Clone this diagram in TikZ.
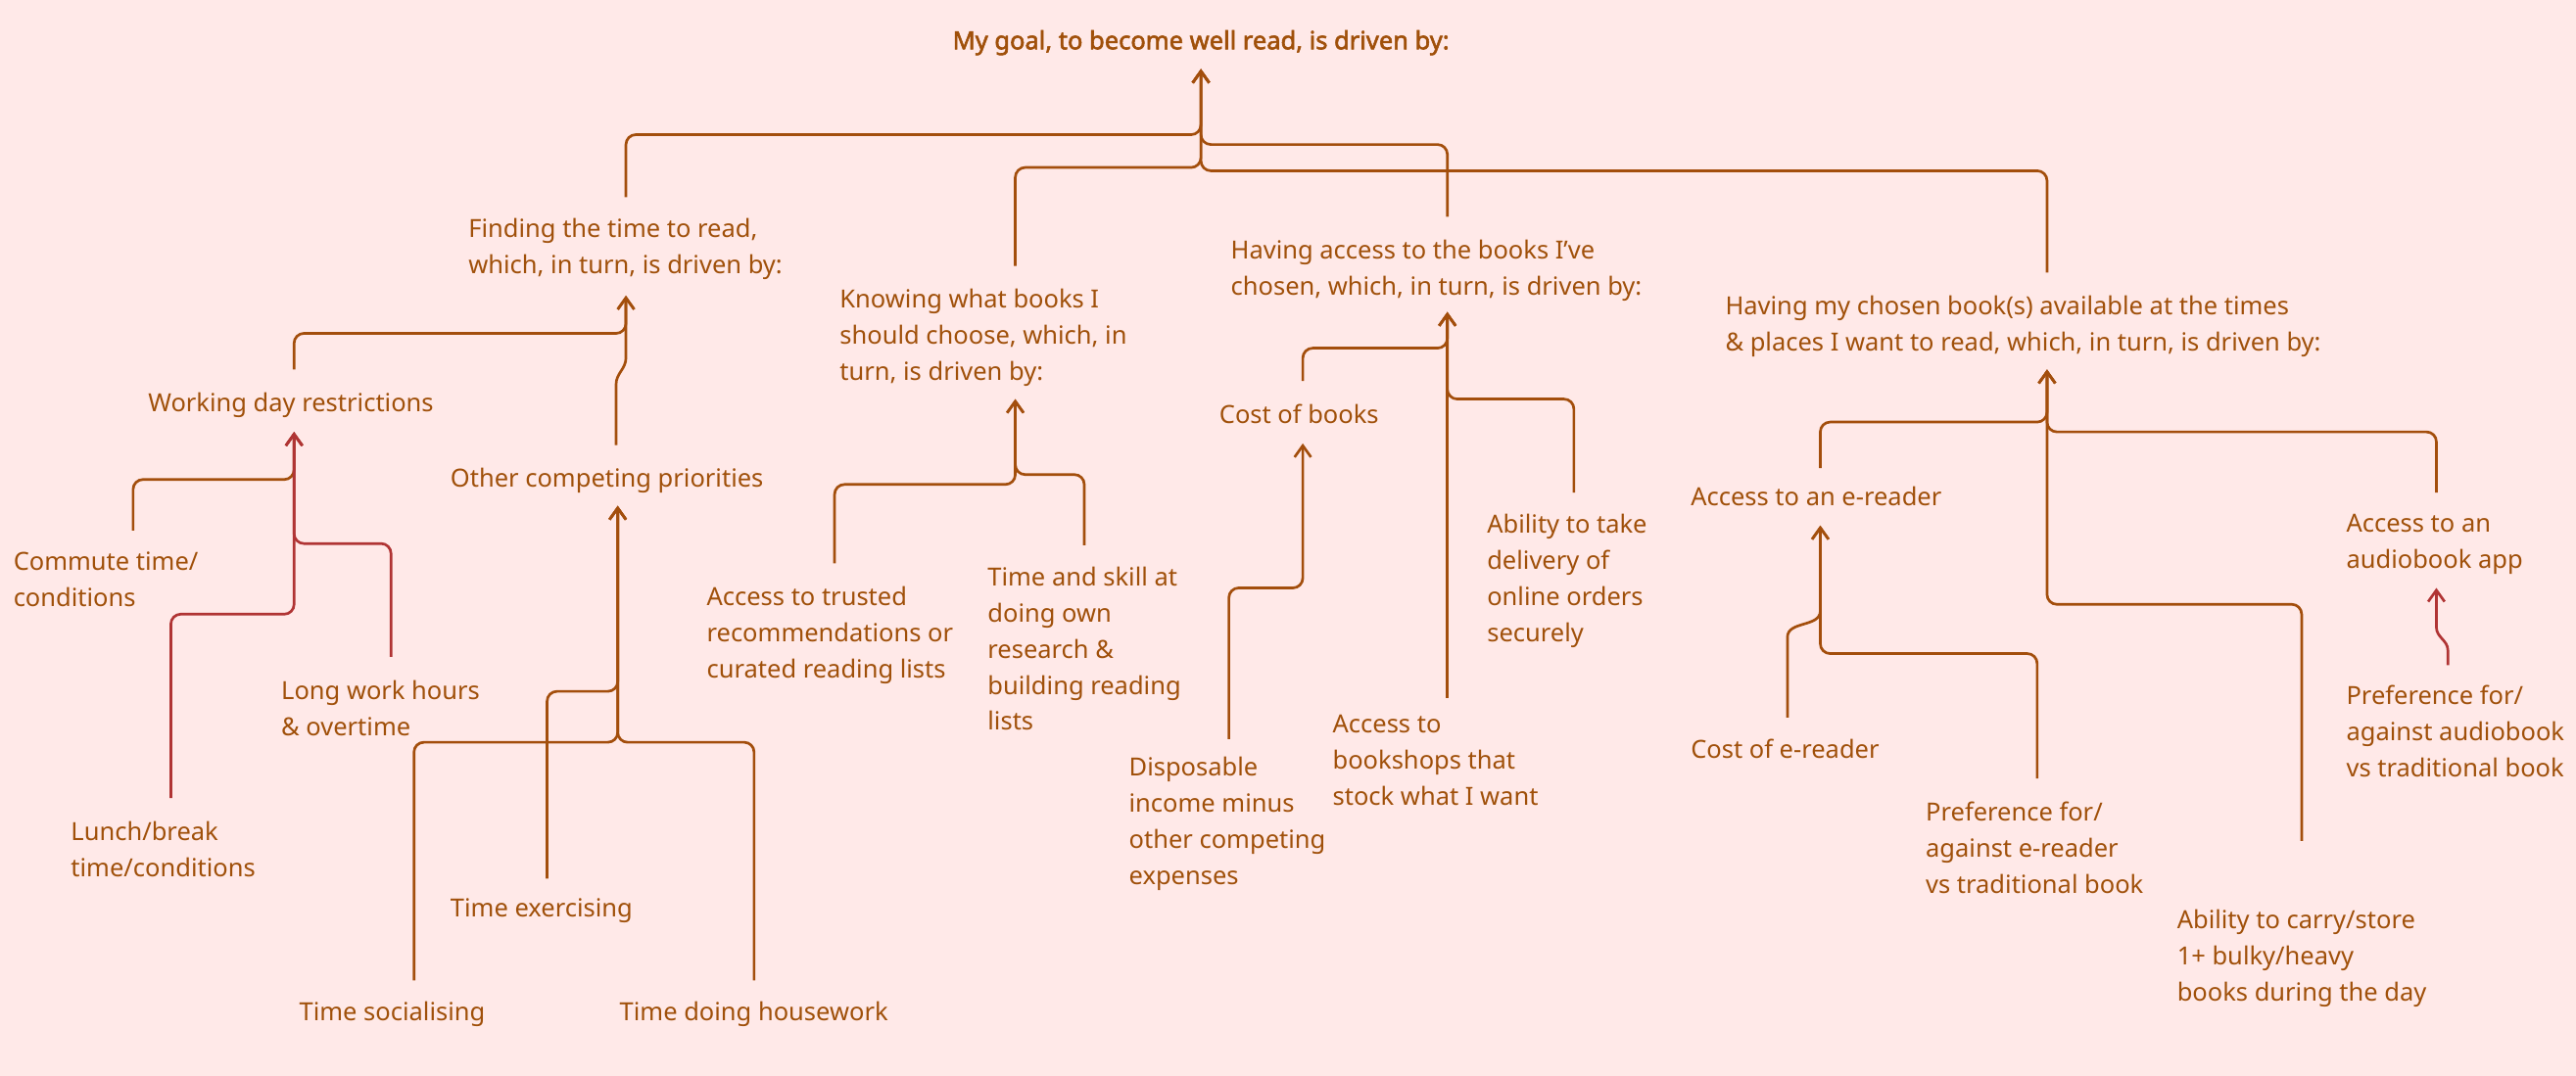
\documentclass[tikz,border=0pt]{standalone}
\usepackage{fontspec}
\setmainfont{Noto Sans}
\newfontfamily\titlefont{Noto Sans}[FakeBold=2.2]
\usetikzlibrary{arrows.meta}
\definecolor{bg}{HTML}{FFE9E8}
\definecolor{tc}{HTML}{A0500A}
\definecolor{lc}{HTML}{A34E0C}
\definecolor{rc}{HTML}{B03434}
\begin{document}
\begin{tikzpicture}[x=1pt,y=-1pt,
  lbl/.style={anchor=north west,inner sep=0pt,align=left,text=tc,font=\fontsize{15.2}{22}\selectfont},
  conn/.style={draw=lc,line width=1.6pt,rounded corners=6pt,-{Straight Barb[length=7pt,width=10pt]}},
  connr/.style={conn,draw=rc}]
\fill[bg] (0,0) rectangle (1568,655);
\useasboundingbox (0,0) rectangle (1568,655);
% texts
\node[lbl,font=\titlefont\fontsize{15.2}{22}\selectfont,anchor=base] (goal) at (731,30) {My goal, to become well read, is driven by:};
\node[lbl] (find) at (285,133) {Finding the time to read,\\which, in turn, is driven by:};
\node[lbl] (know) at (511,176) {Knowing what books I\\should choose, which, in\\turn, is driven by:};
\node[lbl] (acc) at (749,146) {Having access to the books I’ve\\chosen, which, in turn, is driven by:};
\node[lbl] (avail) at (1050,180) {Having my chosen book(s) available at the times\\\& places I want to read, which, in turn, is driven by:};
\node[lbl] (work) at (90,239) {Working day restrictions};
\node[lbl] (other) at (274,285) {Other competing priorities};
\node[lbl] (comm) at (8,336) {Commute time/\\conditions};
\node[lbl] (long) at (171,414) {Long work hours\\\& overtime};
\node[lbl] (lunch) at (43,500) {Lunch/break\\time/conditions};
\node[lbl] (exer) at (274,547) {Time exercising};
\node[lbl] (soc) at (182,610) {Time socialising};
\node[lbl] (house) at (377,610) {Time doing housework};
\node[lbl] (trust) at (430,357) {Access to trusted\\recommendations or\\curated reading lists};
\node[lbl] (skill) at (601,345) {Time and skill at\\doing own\\research \&\\building reading\\lists};
\node[lbl] (cost) at (742,246) {Cost of books};
\node[lbl] (disp) at (687,461) {Disposable\\income minus\\other competing\\expenses};
\node[lbl] (shops) at (811,435) {Access to\\bookshops that\\stock what I want};
\node[lbl] (deliv) at (905,313) {Ability to take\\delivery of\\online orders\\securely};
\node[lbl] (ereader) at (1029,296) {Access to an e-reader};
\node[lbl] (audio) at (1428,313) {Access to an\\audiobook app};
\node[lbl] (costr) at (1029,450) {Cost of e-reader};
\node[lbl] (prefe) at (1172,488) {Preference for/\\against e-reader\\vs traditional book};
\node[lbl] (carry) at (1325,554) {Ability to carry/store\\1+ bulky/heavy\\books during the day};
\node[lbl] (prefa) at (1428,417) {Preference for/\\against audiobook\\vs traditional book};
% anchor coordinates
\coordinate (goalIn) at (731,42);
\coordinate (findIn) at (381,180);
\coordinate (findOut) at (381,120);
\coordinate (knowIn) at (618,243);
\coordinate (knowOut) at (618,162);
\coordinate (accIn) at (881,190);
\coordinate (accOut) at (881,132);
\coordinate (availIn) at (1246,225);
\coordinate (availOut) at (1246,166);
\coordinate (workIn) at (179,263);
\coordinate (workOut) at (179,225);
\coordinate (otherIn) at (376,308);
\coordinate (otherOut) at (375,271);
\coordinate (costIn) at (793,270);
\coordinate (costOut) at (793,232);
\coordinate (ereaderIn) at (1108,320);
\coordinate (ereaderOut) at (1108,285);
\coordinate (audioIn) at (1483,358);
\coordinate (audioOut) at (1483,300);
% level 1
\draw[conn] (findOut) -- (381,82) -- (731,82) -- (goalIn);
\draw[conn] (knowOut) -- (618,102) -- (731,102) -- (goalIn);
\draw[conn] (accOut) -- (881,88) -- (731,88) -- (goalIn);
\draw[conn] (availOut) -- (1246,104) -- (731,104) -- (goalIn);
% finding
\draw[conn] (workOut) -- (179,203) -- (381,203) -- (findIn);
\draw[conn,rounded corners=0pt] (otherOut) -- (375,234) to[out=90,in=-90] (381,218) -- (findIn);
\draw[conn] (81,323) -- (81,292) -- (179,292) -- (workIn);
\draw[connr] (238,400) -- (238,331) -- (179,331) -- (workIn);
\draw[connr] (104,486) -- (104,374) -- (179,374) -- (workIn);
\draw[conn] (333,535) -- (333,421) -- (376,421) -- (otherIn);
\draw[conn] (252,597) -- (252,452) -- (376,452) -- (otherIn);
\draw[conn] (459,597) -- (459,452) -- (376,452) -- (otherIn);
% knowing
\draw[conn] (508,343) -- (508,295) -- (618,295) -- (knowIn);
\draw[conn] (660,332) -- (660,289) -- (618,289) -- (knowIn);
% access
\draw[conn] (costOut) -- (793,212) -- (881,212) -- (accIn);
\draw[conn] (881,425) -- (accIn);
\draw[conn] (958,300) -- (958,243) -- (881,243) -- (accIn);
\draw[conn] (748,450) -- (748,358) -- (793,358) -- (costIn);
% availability
\draw[conn] (ereaderOut) -- (1108,257) -- (1246,257) -- (availIn);
\draw[conn] (audioOut) -- (1483,263) -- (1246,263) -- (availIn);
\draw[conn] (1401,512) -- (1401,368) -- (1246,368) -- (availIn);
\draw[conn,rounded corners=0pt] (1088,437) -- (1088,388) to[out=90,in=-90] (1108,372) -- (ereaderIn);
\draw[conn] (1240,474) -- (1240,398) -- (1108,398) -- (ereaderIn);
\draw[connr,rounded corners=0pt] (1490,405) -- (1490,396) to[out=90,in=-90] (1483,382) -- (audioIn);
\end{tikzpicture}
\end{document}
